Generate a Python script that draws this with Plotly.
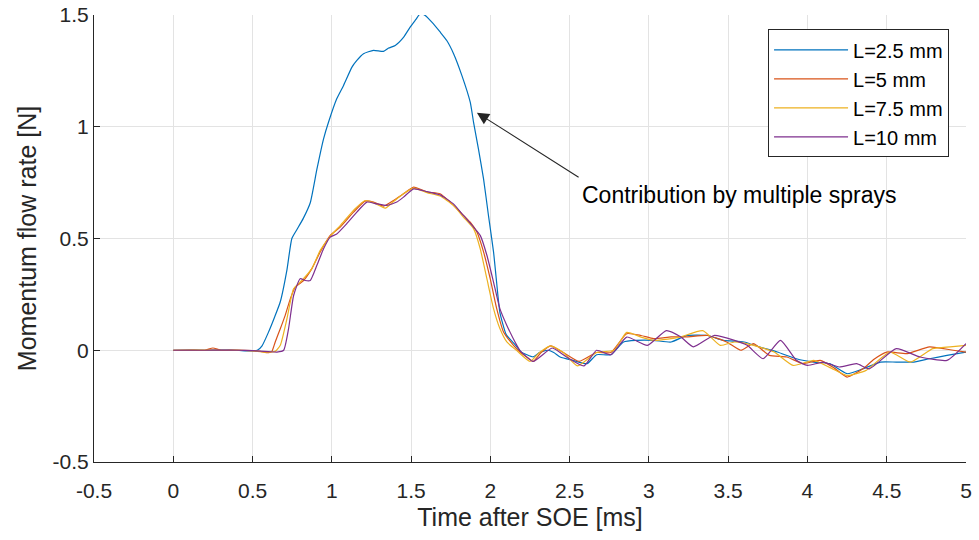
import plotly.graph_objects as go

# ---------------- data ----------------
t_b = [0, 0.1, 0.2, 0.3, 0.4, 0.48, 0.53, 0.56, 0.60, 0.64, 0.675, 0.717, 0.748, 0.78, 0.82, 0.864, 0.906,
       0.948, 0.979, 1.031, 1.074, 1.127, 1.158, 1.20, 1.263, 1.326, 1.358, 1.40, 1.452, 1.494, 1.53, 1.558,
       1.589, 1.631, 1.683, 1.725, 1.768, 1.82, 1.873, 1.894, 1.925, 1.957, 1.988, 2.02, 2.04, 2.06, 2.10,
       2.15, 2.19, 2.23, 2.27, 2.31, 2.36, 2.40, 2.44, 2.52, 2.61, 2.67, 2.76, 2.84, 2.92, 3.03, 3.14, 3.24,
       3.37, 3.47, 3.60, 3.70, 3.81, 3.93, 4.04, 4.14, 4.25, 4.35, 4.46, 4.56, 4.67, 4.77, 4.88, 5.0]
v_b = [0, 0.001, 0, 0.001, 0, -0.003, 0, 0.02, 0.08, 0.15, 0.217, 0.36, 0.50, 0.54, 0.59, 0.66, 0.81,
       0.946, 1.02, 1.125, 1.185, 1.267, 1.297, 1.327, 1.342, 1.337, 1.352, 1.364, 1.40, 1.446, 1.48, 1.506,
       1.498, 1.468, 1.424, 1.386, 1.327, 1.23, 1.11, 1.02, 0.90, 0.767, 0.603, 0.44, 0.30, 0.17, 0.07,
       0.03, -0.005, -0.02, -0.03, -0.01, 0.0, -0.01, -0.03, -0.045, -0.06, -0.02, -0.02, 0.037, 0.044, 0.044,
       0.037, 0.066, 0.066, 0.044, 0.037, 0.014, -0.008, -0.038, -0.053, -0.06, -0.105, -0.083, -0.053,
       -0.053, -0.053, -0.038, -0.023, -0.008]

t_r = [0, 0.1, 0.2, 0.25, 0.3, 0.4, 0.5, 0.549, 0.601, 0.622, 0.643, 0.675, 0.706, 0.738, 0.77, 0.822,
       0.874, 0.927, 0.99, 1.053, 1.137, 1.21, 1.263, 1.326, 1.389, 1.452, 1.516, 1.6, 1.683, 1.746, 1.81,
       1.873, 1.915, 1.957, 1.999, 2.04, 2.083, 2.146, 2.19, 2.23, 2.27, 2.32, 2.38, 2.46, 2.56, 2.67, 2.76,
       2.86, 2.95, 3.03, 3.14, 3.24, 3.37, 3.49, 3.58, 3.66, 3.76, 3.87, 3.97, 4.08, 4.17, 4.25, 4.35, 4.42,
       4.50, 4.63, 4.77, 4.92, 5.0]
v_r = [0, 0.001, 0, 0.01, 0, 0.001, -0.002, -0.005, -0.011, -0.005, 0.037, 0.096, 0.156, 0.23, 0.283, 0.312,
       0.365, 0.44, 0.514, 0.551, 0.618, 0.667, 0.663, 0.645, 0.67, 0.70, 0.73, 0.708, 0.70, 0.663, 0.618,
       0.573, 0.529, 0.44, 0.32, 0.186, 0.082, 0.022, -0.01, -0.03, -0.05, -0.01, 0.02, -0.01, -0.05, -0.01,
       -0.01, 0.074, 0.066, 0.052, 0.06, 0.06, 0.066, 0.037, 0.0, 0.03, -0.023, -0.03, -0.06, -0.045, -0.08,
       -0.12, -0.083, -0.04, -0.008, -0.015, 0.015, 0.0, -0.008]

t_y = [0, 0.1, 0.2, 0.3, 0.4, 0.5, 0.58, 0.643, 0.675, 0.717, 0.759, 0.811, 0.874, 0.927, 0.99, 1.053,
       1.147, 1.21, 1.263, 1.337, 1.389, 1.452, 1.516, 1.6, 1.683, 1.767, 1.83, 1.894, 1.936, 1.978, 2.02,
       2.06, 2.104, 2.17, 2.25, 2.31, 2.38, 2.46, 2.55, 2.67, 2.78, 2.86, 2.95, 3.03, 3.12, 3.20, 3.34, 3.45,
       3.54, 3.66, 3.79, 3.91, 4.04, 4.15, 4.25, 4.37, 4.52, 4.65, 4.79, 4.90, 5.0]
v_y = [0, 0, 0.001, 0, 0, -0.003, -0.008, -0.005, 0.022, 0.141, 0.275, 0.312, 0.365, 0.447, 0.51, 0.558,
       0.633, 0.67, 0.66, 0.636, 0.665, 0.70, 0.725, 0.705, 0.69, 0.648, 0.596, 0.544, 0.454, 0.32, 0.186,
       0.097, 0.037, -0.004, -0.05, -0.01, 0.02, -0.01, -0.07, -0.01, 0.0, 0.08, 0.059, 0.044, 0.05, 0.06,
       0.088, 0.022, 0.037, 0.022, -0.008, -0.068, -0.045, -0.08, -0.113, -0.09, -0.008, -0.053, 0.007,
       0.015, 0.022]

t_p = [0, 0.1, 0.2, 0.3, 0.4, 0.5, 0.6, 0.654, 0.696, 0.727, 0.759, 0.80, 0.832, 0.864, 0.906, 0.948,
       0.99, 1.031, 1.094, 1.158, 1.221, 1.284, 1.347, 1.41, 1.452, 1.516, 1.6, 1.683, 1.767, 1.83, 1.894,
       1.936, 1.978, 2.02, 2.06, 2.104, 2.167, 2.19, 2.27, 2.39, 2.48, 2.59, 2.67, 2.76, 2.86, 2.99, 3.11,
       3.20, 3.28, 3.41, 3.54, 3.62, 3.72, 3.83, 3.93, 4.0, 4.10, 4.20, 4.31, 4.39, 4.56, 4.71, 4.88, 5.0]
v_p = [0, 0, 0, 0.001, 0, -0.002, -0.006, -0.008, 0.0, 0.096, 0.245, 0.32, 0.312, 0.312, 0.38, 0.454,
       0.506, 0.52, 0.566, 0.618, 0.663, 0.655, 0.648, 0.663, 0.685, 0.722, 0.71, 0.695, 0.655, 0.603, 0.551,
       0.514, 0.425, 0.305, 0.186, 0.111, 0.022, -0.004, -0.05, 0.01, -0.03, -0.07, 0.0, -0.02, 0.059, 0.022,
       0.088, 0.06, 0.015, 0.066, 0.044, 0.022, -0.038, 0.044, -0.045, -0.068, -0.053, -0.075, -0.06, -0.083,
       0.007, -0.03, -0.045, 0.03]

series_names = ["L=2.5 mm", "L=5 mm", "L=7.5 mm", "L=10 mm"]
series_colors = ["#0072BD", "#D95319", "#EDB120", "#7E2F8E"]

x_tick_vals = [-0.5, 0, 0.5, 1, 1.5, 2, 2.5, 3, 3.5, 4, 4.5, 5]
x_tick_text = ["-0.5", "0", "0.5", "1", "1.5", "2", "2.5", "3", "3.5", "4", "4.5", "5"]
y_tick_vals = [-0.5, 0, 0.5, 1, 1.5]
y_tick_text = ["-0.5", "0", "0.5", "1", "1.5"]

annot_text = "Contribution by multiple sprays"
arrow_head = (1.915, 1.063)
arrow_tail = (2.566, 0.770)
text_pos = (3.569, 0.696)

# ---------------- figure ----------------
FONT = "Liberation Sans, Arial, sans-serif"
fig = go.Figure()
for i, (tt, vv) in enumerate([(t_b, v_b), (t_r, v_r), (t_y, v_y), (t_p, v_p)]):
    fig.add_trace(go.Scatter(x=tt, y=vv, mode="lines", name=series_names[i],
                             legendgroup=str(i),
                             line=dict(color=series_colors[i], width=1.2, shape="spline", smoothing=0.5)))

axis_common = dict(showline=True, linecolor="#262626", linewidth=1, mirror=False,
                   ticks="inside", ticklen=6, tickcolor="#262626", automargin=False,
                   showgrid=True, gridcolor="#e3e3e3", gridwidth=1, zeroline=False,
                   tickfont=dict(family=FONT, size=21, color="#262626"))

fig.update_layout(
    width=979, height=540,
    margin=dict(l=94, r=13, t=15, b=78),
    paper_bgcolor="white", plot_bgcolor="white",
    font=dict(family=FONT, color="#262626"),
    showlegend=True,
    legend=dict(x=0.773, y=0.968, xanchor="left", yanchor="top",
                bordercolor="#262626", borderwidth=1, bgcolor="white",
                font=dict(family=FONT, size=20, color="#000000"),
                traceorder="grouped", tracegroupgap=0, itemwidth=74),
    xaxis=dict(range=[-0.5, 5], tickvals=x_tick_vals, ticktext=x_tick_text, ticklabelstandoff=10,
               title=dict(text="Time after SOE [ms]", font=dict(family=FONT, size=25, color="#262626"),
                          standoff=7),
               **axis_common),
    yaxis=dict(range=[-0.5, 1.5], tickvals=y_tick_vals, ticktext=y_tick_text,
               title=dict(text="Momentum flow rate [N]", font=dict(family=FONT, size=25, color="#262626"),
                          standoff=8),
               **axis_common),
)

fig.add_annotation(x=arrow_head[0], y=arrow_head[1], ax=arrow_tail[0], ay=arrow_tail[1],
                   xref="x", yref="y", axref="x", ayref="y", text="", showarrow=True,
                   arrowhead=2, arrowsize=2.2, arrowwidth=1.1, arrowcolor="#262626")
fig.add_annotation(x=text_pos[0], y=text_pos[1], xref="x", yref="y", text=annot_text,
                   showarrow=False, font=dict(family=FONT, size=23, color="#000000"))

fig.write_html("out.html")
